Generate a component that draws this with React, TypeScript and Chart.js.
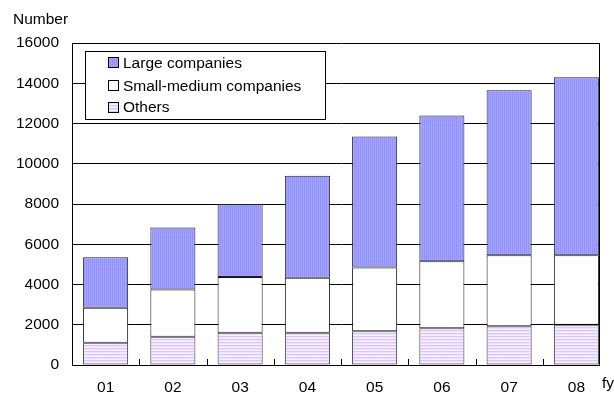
import React, { useEffect, useRef } from 'react';
import { Chart, registerables } from 'chart.js';

Chart.register(...registerables);

const categories = ['01', '02', '03', '04', '05', '06', '07', '08'];
const largeCompanies = [2500, 3080, 3630, 5070, 6500, 7250, 8200, 8850];
const smallMediumCompanies = [1750, 2350, 2770, 2730, 3170, 3320, 3520, 3450];
const others = [1100, 1400, 1600, 1600, 1680, 1830, 1930, 2000];
const seriesLabels = ['Large companies', 'Small-medium companies', 'Others'];
const yMax = 16000;
const yStep = 2000;
const yTitle = 'Number';
const xTitle = 'fy';

const FONT = "'Liberation Sans', Arial, sans-serif";
const FS = 15.5;

function makePattern(colors: string[][]): CanvasPattern | string {
  const h = colors.length;
  const w = colors[0].length;
  const c = document.createElement('canvas');
  c.width = w;
  c.height = h;
  const g = c.getContext('2d');
  if (!g) return colors[0][0];
  for (let y = 0; y < h; y++) {
    for (let x = 0; x < w; x++) {
      g.fillStyle = colors[y][x];
      g.fillRect(x, y, 1, 1);
    }
  }
  const p = g.createPattern(c, 'repeat');
  return p || colors[0][0];
}

export default function App() {
  const ref = useRef<HTMLCanvasElement | null>(null);

  useEffect(() => {
    if (!ref.current) return;
    const largeFill = makePattern([
      ['#8e8efe', '#a2a2ff'],
      ['#9696ff', '#a6a6ff'],
    ]);
    const othersFill = makePattern([
      ['#dcc4ff'],
      ['#eee2ff'],
      ['#f6f0ff'],
    ]);
    const fills = [largeFill, '#ffffff', othersFill];

    const overlay = {
      id: 'overlay',
      afterDraw(chart: any) {
        const ctx = chart.ctx as CanvasRenderingContext2D;
        const a = chart.chartArea;
        const bottom = Math.round(a.bottom);
        const step = (a.right - a.left) / categories.length;
        ctx.save();
        ctx.fillStyle = '#000000';
        // inside tick marks between categories
        for (let i = 1; i < categories.length; i++) {
          const px = Math.round(a.left + i * step);
          ctx.fillRect(px, bottom - 6, 1, 6);
        }
        // cut plot at right edge
        const cut = 600;
        ctx.fillStyle = '#ffffff';
        ctx.fillRect(cut, a.top - 3, chart.width - cut, a.bottom - a.top + 5);
        ctx.fillStyle = '#000000';
        ctx.fillRect(cut - 1, Math.round(a.top), 1, bottom - Math.round(a.top) + 1);
        // legend
        ctx.strokeStyle = '#000000';
        ctx.lineWidth = 1;
        ctx.fillStyle = '#ffffff';
        ctx.fillRect(85.5, 51.5, 240, 68);
        ctx.strokeRect(85.5, 51.5, 240, 68);
        ctx.font = `${FS}px ${FONT}`;
        ctx.textBaseline = 'alphabetic';
        ctx.textAlign = 'left';
        const tops = [57, 80, 101.5];
        const order = [0, 1, 2];
        order.forEach((di, k) => {
          const t = Math.round(tops[k]) + 0.5;
          ctx.fillStyle = fills[di] as any;
          ctx.fillRect(108.5, t, 10, 10);
          ctx.strokeStyle = '#000000';
          ctx.strokeRect(108.5, t, 10, 10);
          ctx.fillStyle = '#000000';
          ctx.fillText(seriesLabels[di], 123, tops[k] + 10.5);
        });
        // titles
        ctx.fillText(yTitle, 13, 24);
        ctx.fillText(xTitle, 602, 388);
        ctx.restore();
      },
    };

    const chart = new Chart(ref.current, {
      type: 'bar',
      data: {
        labels: categories,
        datasets: [
          {
            label: seriesLabels[2],
            data: others,
            backgroundColor: othersFill as any,
            borderColor: '#333',
            borderWidth: 1,
            borderSkipped: false,
            stack: 's',
          },
          {
            label: seriesLabels[1],
            data: smallMediumCompanies,
            backgroundColor: '#ffffff',
            borderColor: '#111',
            borderWidth: 1,
            borderSkipped: false,
            stack: 's',
          },
          {
            label: seriesLabels[0],
            data: largeCompanies,
            backgroundColor: largeFill as any,
            borderColor: '#222',
            borderWidth: 1,
            borderSkipped: false,
            stack: 's',
          },
        ],
      },
      options: {
        responsive: false,
        animation: false,
        devicePixelRatio: 1,
        layout: { padding: { top: 43, right: 4, left: 0, bottom: 0 } },
        datasets: { bar: { categoryPercentage: 1, barPercentage: 0.67 } },
        plugins: {
          legend: { display: false },
          tooltip: { enabled: false },
          title: { display: false },
        },
        scales: {
          x: {
            stacked: true,
            offset: true,
            grid: { display: false, drawTicks: false },
            border: { display: true, color: '#000', width: 1 },
            ticks: { color: '#000', font: { family: FONT, size: FS }, padding: 13, maxRotation: 0, autoSkip: false },
            afterFit: (s: any) => { s.height = 29; },
          },
          y: {
            stacked: true,
            min: 0,
            max: yMax,
            grid: { color: '#000', lineWidth: 1, drawTicks: false },
            border: { display: true, color: '#000', width: 1 },
            ticks: {
              stepSize: yStep,
              color: '#000',
              font: { family: FONT, size: FS },
              padding: 13,
              callback: (v: any) => String(v),
            },
            afterFit: (s: any) => { s.width = 72; },
          },
        },
      },
      plugins: [overlay],
    });
    return () => chart.destroy();
  }, []);

  return (
    <div style={{ position: 'fixed', left: 0, top: 0, width: 614, height: 394, background: '#fff' }}>
      <canvas ref={ref} width={614} height={394} style={{ width: 614, height: 394, display: 'block' }} />
    </div>
  );
}
